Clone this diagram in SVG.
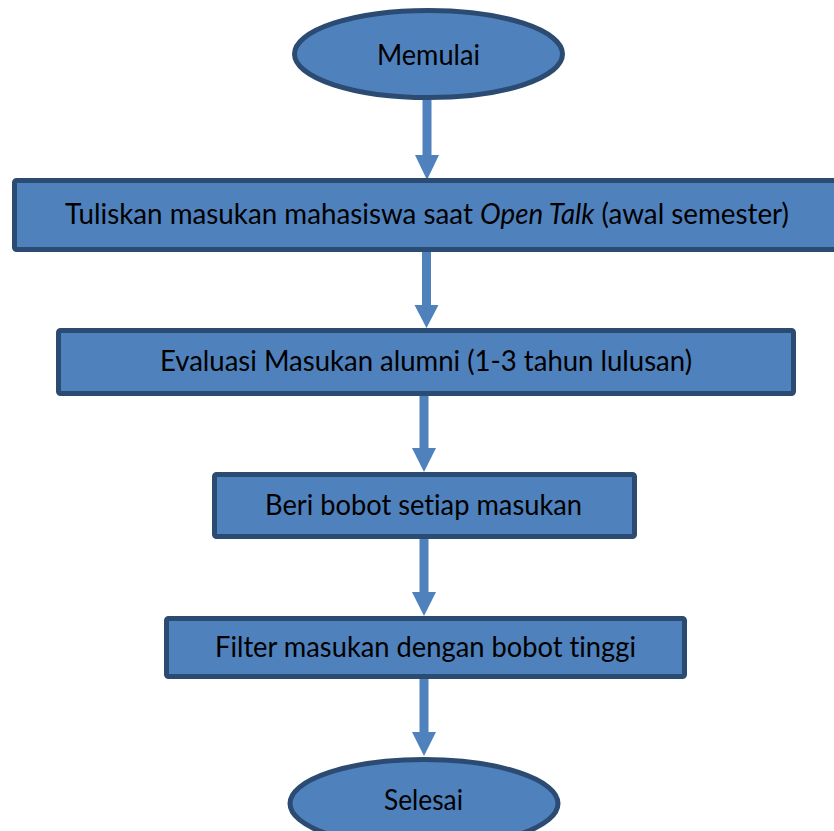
<svg xmlns="http://www.w3.org/2000/svg" width="834" height="831" viewBox="0 0 834 831">
  <style>
    .shape { fill: #4f81bd; stroke: #2b4b72; stroke-width: 5; }
    .arrow { fill: #4f81bd; stroke: none; }
    .label { font-family: Lato, "Open Sans", "Liberation Sans", sans-serif; font-size: 28px; fill: #000000; text-anchor: start; font-variant-ligatures: none; }
  </style>
  <rect width="834" height="831" fill="#ffffff"/>

  <!-- connectors: block arrows between steps -->
  <g id="connectors">
    <polygon class="arrow" points="422.5,100 431.5,100 431.5,155 439,155 427,180 415,155 422.5,155"/>
    <polygon class="arrow" points="422,252 431,252 431,305 438.5,305 426.5,328 414.5,305 422,305"/>
    <polygon class="arrow" points="419.5,396 428.5,396 428.5,448 436,448 424,472 412,448 419.5,448"/>
    <polygon class="arrow" points="419.5,539 428.5,539 428.5,592 436,592 424,616 412,592 419.5,592"/>
    <polygon class="arrow" points="419.5,679 428.5,679 428.5,732 436,732 424,756 412,732 419.5,732"/>
  </g>

  <g id="start">
    <ellipse class="shape" cx="428.5" cy="54" rx="134" ry="43.5"/>
    <text class="label" x="377" y="65" textLength="103" lengthAdjust="spacingAndGlyphs">Memulai</text>
  </g>

  <g id="step1">
    <rect class="shape" x="14.5" y="180.5" width="830" height="69" rx="2"/>
    <text class="label" x="65" y="224" textLength="724" lengthAdjust="spacingAndGlyphs">Tuliskan masukan mahasiswa saat <tspan font-style="italic">Open Talk</tspan> (awal semester)</text>
  </g>

  <g id="step2">
    <rect class="shape" x="58.5" y="330.5" width="735" height="63" rx="2"/>
    <text class="label" x="160" y="371" textLength="532" lengthAdjust="spacingAndGlyphs">Evaluasi Masukan alumni (1-3 tahun lulusan)</text>
  </g>

  <g id="step3">
    <rect class="shape" x="214.5" y="474.5" width="420" height="62" rx="2"/>
    <text class="label" x="265" y="515" textLength="317" lengthAdjust="spacingAndGlyphs">Beri bobot setiap masukan</text>
  </g>

  <g id="step4">
    <rect class="shape" x="166.5" y="618.5" width="518" height="58" rx="2"/>
    <text class="label" x="215" y="657" textLength="421" lengthAdjust="spacingAndGlyphs">Filter masukan dengan bobot tinggi</text>
  </g>

  <g id="end">
    <ellipse class="shape" cx="424" cy="803.5" rx="134" ry="44"/>
    <text class="label" x="384" y="810" textLength="79" lengthAdjust="spacingAndGlyphs">Selesai</text>
  </g>
</svg>
